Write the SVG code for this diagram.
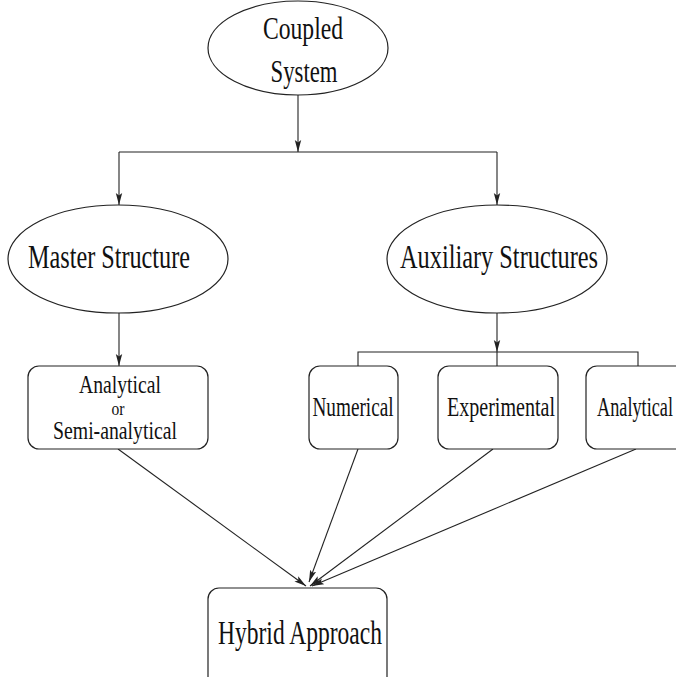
<svg xmlns="http://www.w3.org/2000/svg" width="676" height="677" viewBox="0 0 676 677">
<style>
.shape{fill:#fff;stroke:#222;stroke-width:1.2}
.conn{fill:none;stroke:#222;stroke-width:1.1}
text{font-family:"Liberation Serif","Times New Roman",serif;fill:#111;text-anchor:middle}
.big{font-size:33px}
.mid{font-size:27px}
.sm{font-size:25px}
</style>
<defs>
<marker id="ah" viewBox="0 0 12 8" refX="12" refY="4" markerWidth="12" markerHeight="8" markerUnits="userSpaceOnUse" orient="auto">
<path d="M0,0.8 L12,4 L0,7.2 L2.5,4 z" fill="#222"/>
</marker>
</defs>
<rect width="676" height="677" fill="#fff"/>
<g id="connectors">
<line class="conn" x1="298" y1="95" x2="298" y2="152" marker-end="url(#ah)"/>
<polyline class="conn" points="119,152 497,152"/>
<line class="conn" x1="119" y1="152" x2="119" y2="205" marker-end="url(#ah)"/>
<line class="conn" x1="497" y1="152" x2="497" y2="205" marker-end="url(#ah)"/>
<line class="conn" x1="119" y1="313" x2="119" y2="366" marker-end="url(#ah)"/>
<line class="conn" x1="497" y1="313" x2="497" y2="352" marker-end="url(#ah)"/>
<polyline class="conn" points="358,366 358,352 638,352 638,366"/>
<line class="conn" x1="497" y1="352" x2="497" y2="366"/>
<line class="conn" x1="118" y1="449" x2="306" y2="586" marker-end="url(#ah)"/>
<line class="conn" x1="358" y1="449" x2="309" y2="582" marker-end="url(#ah)"/>
<line class="conn" x1="493" y1="449" x2="310" y2="586" marker-end="url(#ah)"/>
<line class="conn" x1="636" y1="449" x2="312" y2="586" marker-end="url(#ah)"/>
</g>
<g id="coupled-system">
<ellipse class="shape" cx="298" cy="48" rx="90" ry="47"/>
<text x="303" y="39" textLength="80" lengthAdjust="spacingAndGlyphs" style="font-size:31px">Coupled</text>
<text x="304" y="82" textLength="67" lengthAdjust="spacingAndGlyphs" style="font-size:31px">System</text>
</g>
<g id="master-structure">
<ellipse class="shape" cx="118" cy="259" rx="110" ry="54"/>
<text class="big" x="109" y="268" textLength="162" lengthAdjust="spacingAndGlyphs">Master Structure</text>
</g>
<g id="auxiliary-structures">
<ellipse class="shape" cx="497" cy="259" rx="110" ry="54"/>
<text class="big" x="499" y="268" textLength="198" lengthAdjust="spacingAndGlyphs">Auxiliary Structures</text>
</g>
<g id="analytical-semi">
<rect class="shape" x="28" y="366" width="180" height="83" rx="11"/>
<text class="sm" x="120" y="393" textLength="82" lengthAdjust="spacingAndGlyphs">Analytical</text>
<text x="118" y="415" style="font-size:18px" textLength="13" lengthAdjust="spacingAndGlyphs">or</text>
<text class="sm" x="115" y="439" textLength="124" lengthAdjust="spacingAndGlyphs">Semi-analytical</text>
</g>
<g id="numerical">
<rect class="shape" x="309" y="366" width="89" height="83" rx="11"/>
<text class="mid" x="353" y="416" textLength="81" lengthAdjust="spacingAndGlyphs">Numerical</text>
</g>
<g id="experimental">
<rect class="shape" x="438" y="366" width="120" height="83" rx="11"/>
<text class="mid" x="501" y="416" textLength="108" lengthAdjust="spacingAndGlyphs">Experimental</text>
</g>
<g id="analytical-aux">
<rect class="shape" x="586" y="366" width="110" height="83" rx="11"/>
<text class="mid" x="635" y="416" textLength="76" lengthAdjust="spacingAndGlyphs">Analytical</text>
</g>
<g id="hybrid-approach">
<rect class="shape" x="208" y="588" width="179" height="110" rx="11"/>
<text class="big" x="300" y="644" textLength="164" lengthAdjust="spacingAndGlyphs">Hybrid Approach</text>
</g>
</svg>
